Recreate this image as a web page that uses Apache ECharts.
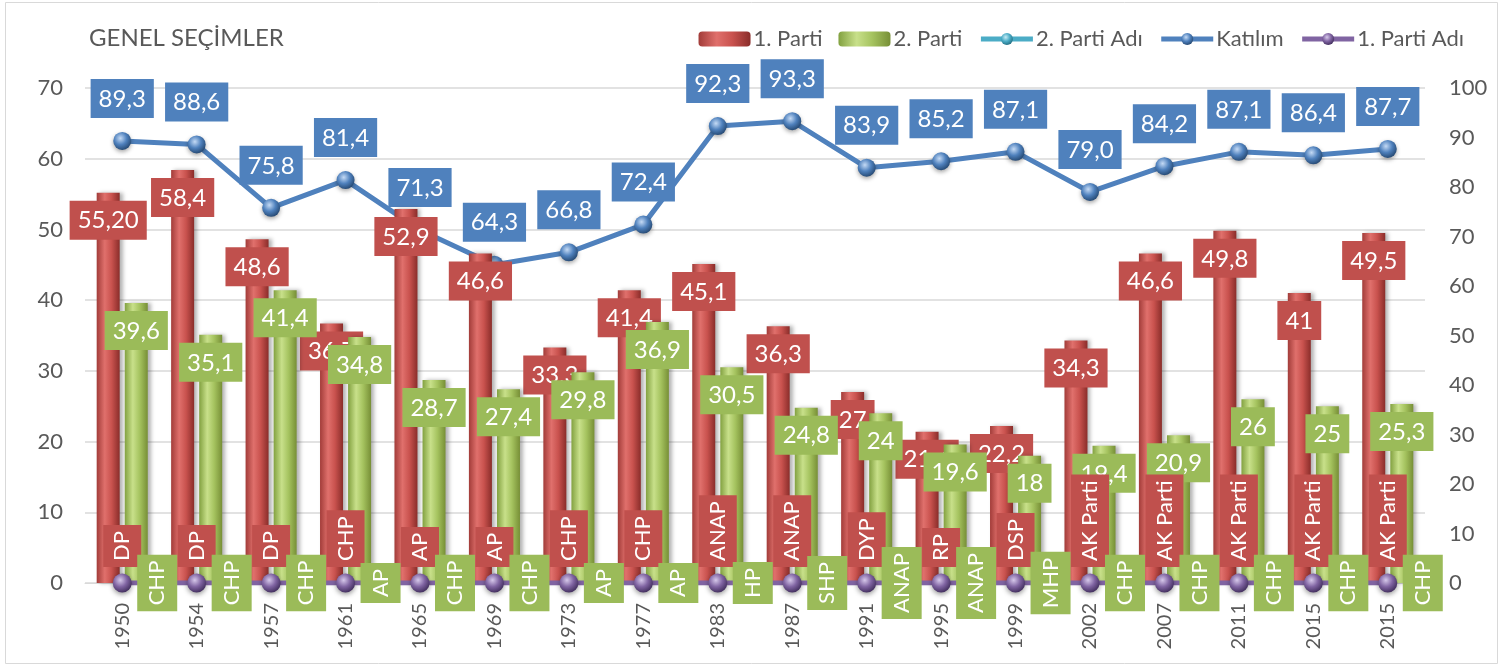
<!DOCTYPE html>
<html>
<head>
<meta charset="utf-8">
<script src="https://cdn.jsdelivr.net/npm/echarts@6/dist/echarts.min.js"></script>
<style>
  html, body { margin: 0; padding: 0; background: #fff; }
  #chart { width: 1507px; height: 666px; }
</style>
</head>
<body>
<div id="chart"></div>
<script>
// seçim yılları
const years = ['1950', '1954', '1957', '1961', '1965', '1969', '1973', '1977', '1983', '1987', '1991', '1995', '1999', '2002', '2007', '2011', '2015', '2015']
// oy oranları (%), etiketteki yazımı korumak için metin olarak
const firstParty = ['55.20', '58.4', '48.6', '36.7', '52.9', '46.6', '33.3', '41.4', '45.1', '36.3', '27', '21.4', '22.2', '34.3', '46.6', '49.8', '41', '49.5']
const secondParty = ['39.6', '35.1', '41.4', '34.8', '28.7', '27.4', '29.8', '36.9', '30.5', '24.8', '24', '19.6', '18', '19.4', '20.9', '26', '25', '25.3']
// katılım oranı (%)
const turnout = [89.3, 88.6, 75.8, 81.4, 71.3, 64.3, 66.8, 72.4, 92.3, 93.3, 83.9, 85.2, 87.1, 79.0, 84.2, 87.1, 86.4, 87.7]
// parti adları
const firstNames = ['DP', 'DP', 'DP', 'CHP', 'AP', 'AP', 'CHP', 'CHP', 'ANAP', 'ANAP', 'DYP', 'RP', 'DSP', 'AK Parti', 'AK Parti', 'AK Parti', 'AK Parti', 'AK Parti']
const secondNames = ['CHP', 'CHP', 'CHP', 'AP', 'CHP', 'CHP', 'AP', 'AP', 'HP', 'SHP', 'ANAP', 'ANAP', 'MHP', 'CHP', 'CHP', 'CHP', 'CHP', 'CHP']
const leftTicks = { min: 0, max: 70, interval: 10 }
const rightTicks = { min: 0, max: 100, interval: 10 }

const FONT = 'Lato'
const GREY = '#595959'

// silindir görünümü için yatay degrade
const cylinder = (c0, c1, c2, c3) => ({
  type: 'linear', x: 0, y: 0, x2: 1, y2: 0,
  colorStops: [
    { offset: 0, color: c0 },
    { offset: 0.35, color: c1 },
    { offset: 0.65, color: c2 },
    { offset: 1, color: c3 },
  ],
})
// küre işaretçi
const sphere = (light, mid, dark) => ({
  type: 'radial', x: 0.4, y: 0.35, r: 0.7,
  colorStops: [
    { offset: 0, color: light },
    { offset: 0.5, color: mid },
    { offset: 1, color: dark },
  ],
})
const comma = (s) => String(s).replace('.', ',')

const valueLabel = (bg) => ({
  show: true,
  position: 'insideTop',
  distance: 8,
  color: '#fff',
  fontFamily: FONT,
  fontSize: 24,
  lineHeight: 28,
  backgroundColor: bg,
  padding: [6, 8, 5, 8],
  formatter: (p) => comma(p.value),
})

const zeros = years.map(() => 0)

const cyanSphere = sphere('#c6ecf5', '#4bacc6', '#1f6a7e')
const blueSphere = sphere('#c4daf5', '#4f81bd', '#22446c')
const purpleSphere = sphere('#d6c8ea', '#8064a2', '#3d2a58')

const myChart = echarts.init(document.getElementById('chart'))

const option = {
  animation: false,
  backgroundColor: '#fff',
  title: {
    text: 'GENEL SEÇİMLER',
    left: 84,
    top: 21,
    textStyle: { fontFamily: FONT, fontSize: 24, fontWeight: 'normal', color: GREY },
  },
  legend: {
    right: 38,
    top: 23,
    itemWidth: 52,
    itemHeight: 15,
    itemGap: 16,
    textStyle: { fontFamily: FONT, fontSize: 22, color: GREY, padding: [0, 0, 0, -2] },
    data: [
      { name: '1. Parti' },
      { name: '2. Parti' },
      { name: '2. Parti Adı', itemStyle: { color: cyanSphere, opacity: 1 }, lineStyle: { color: '#4bacc6', width: 5, opacity: 1 } },
      { name: 'Katılım', lineStyle: { width: 5 } },
      { name: '1. Parti Adı', lineStyle: { width: 5 } },
    ],
  },
  graphic: [
    {
      type: 'rect',
      silent: true,
      shape: { x: 5.5, y: 2.5, width: 1492, height: 661 },
      style: { fill: 'none', stroke: '#d9d9d9', lineWidth: 1 },
    },
  ],
  grid: { left: 85, right: 82, top: 88, bottom: 83 },
  xAxis: {
    type: 'category',
    data: years,
    axisTick: { show: false },
    axisLine: { lineStyle: { color: '#d9d9d9' } },
    axisLabel: { rotate: 90, margin: 20, fontFamily: FONT, fontSize: 20, color: GREY },
  },
  yAxis: [
    {
      type: 'value',
      ...leftTicks,
      axisLabel: { margin: 22, fontFamily: FONT, fontSize: 22, color: GREY },
      splitLine: { lineStyle: { color: '#d9d9d9', width: 1.5 } },
    },
    {
      type: 'value',
      ...rightTicks,
      splitLine: { show: false },
      axisLabel: { margin: 24, fontFamily: FONT, fontSize: 22, color: GREY },
    },
  ],
  series: [
    {
      name: 'Katılım',
      type: 'line',
      yAxisIndex: 1,
      z: 2,
      data: turnout,
      symbol: 'circle',
      symbolSize: 18,
      lineStyle: { color: '#4f81bd', width: 5 },
      itemStyle: { color: blueSphere, shadowColor: 'rgba(0,0,0,0.35)', shadowBlur: 4, shadowOffsetY: 2 },
      label: {
        show: true,
        position: 'top',
        distance: 14,
        color: '#fff',
        fontFamily: FONT,
        fontSize: 24,
        lineHeight: 28,
        backgroundColor: '#4f81bd',
        padding: [6, 8, 5, 8],
        formatter: (p) => comma(p.value.toFixed(1)),
      },
    },
    {
      name: '1. Parti',
      type: 'bar',
      z: 3,
      data: firstParty,
      barWidth: 23,
      barGap: '22%',
      itemStyle: { color: cylinder('#a23c39', '#e0706c', '#c9524e', '#8a2d2a'), shadowColor: 'rgba(0,0,0,0.3)', shadowBlur: 4, shadowOffsetX: 3 },
      label: valueLabel('#c0504d'),
    },
    {
      name: '2. Parti',
      type: 'bar',
      z: 4,
      data: secondParty,
      barWidth: 23,
      itemStyle: { color: cylinder('#82a140', '#c8e08a', '#a5c35f', '#778f36'), shadowColor: 'rgba(0,0,0,0.3)', shadowBlur: 4, shadowOffsetX: 3 },
      label: valueLabel('#9bbb59'),
    },
    {
      name: '1. Parti Adı',
      type: 'line',
      z: 6,
      data: zeros,
      symbol: 'circle',
      symbolSize: 19,
      lineStyle: { color: '#8064a2', width: 5 },
      itemStyle: { color: purpleSphere, shadowColor: 'rgba(0,0,0,0.4)', shadowBlur: 5, shadowOffsetY: 2 },
      label: {
        show: true,
        position: 'inside',
        rotate: 90,
        align: 'left',
        verticalAlign: 'middle',
        offset: [16, 0],
        color: '#fff',
        fontFamily: FONT,
        fontSize: 22,
        lineHeight: 26,
        backgroundColor: '#c0504d',
        padding: [7, 6, 5, 6],
        formatter: (p) => firstNames[p.dataIndex],
      },
    },
    {
      // mor çizginin arkasında kalır; yalnızca etiketleri görünür
      name: '2. Parti Adı',
      type: 'line',
      z: 7,
      data: zeros,
      symbol: 'circle',
      symbolSize: 18,
      lineStyle: { color: '#4bacc6', width: 5, opacity: 0 },
      itemStyle: { color: cyanSphere, opacity: 0 },
      label: {
        show: true,
        opacity: 1,
        position: 'inside',
        rotate: 90,
        align: 'center',
        verticalAlign: 'middle',
        offset: [0, 35],
        color: '#fff',
        fontFamily: FONT,
        fontSize: 22,
        lineHeight: 26,
        backgroundColor: '#9bbb59',
        padding: [8, 6, 6, 6],
        formatter: (p) => secondNames[p.dataIndex],
      },
    },
  ],
}

myChart.setOption(option)
</script>
</body>
</html>
